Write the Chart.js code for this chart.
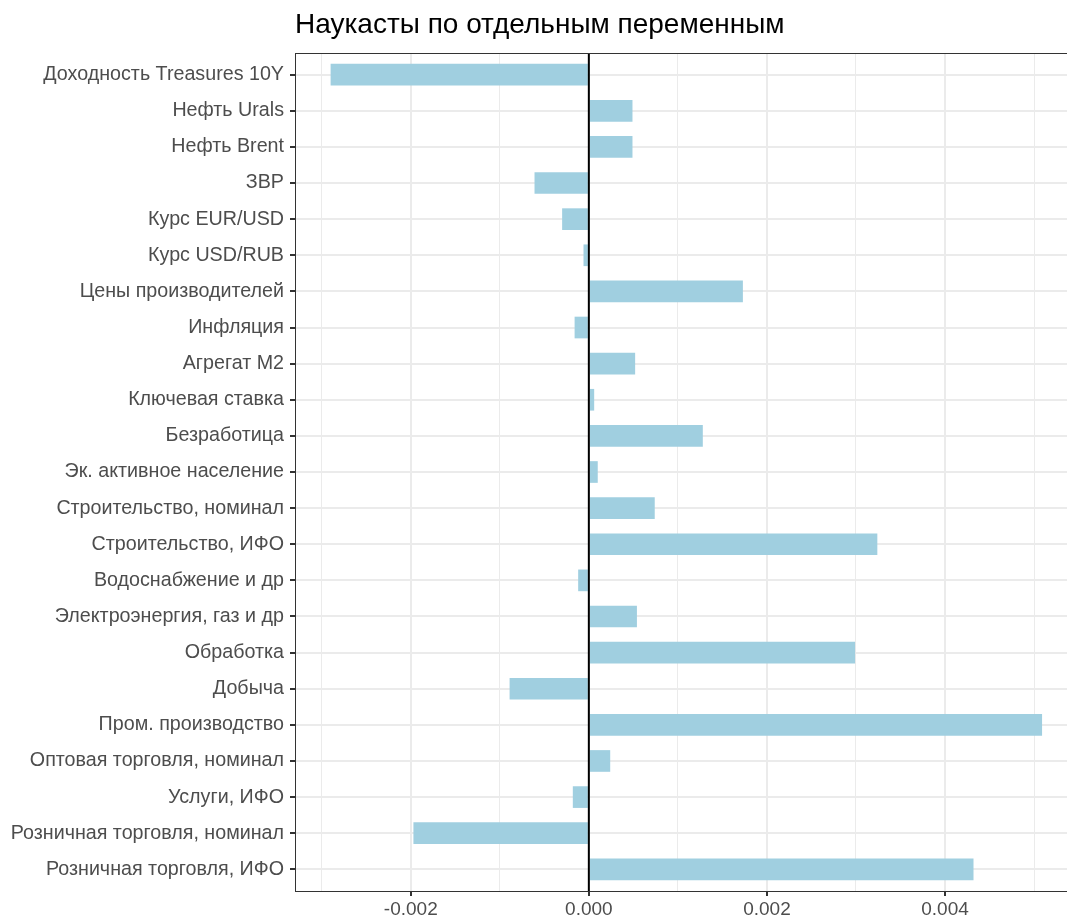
<!DOCTYPE html>
<html>
<head>
<meta charset="utf-8">
<script src="https://cdn.jsdelivr.net/npm/chart.js@4.4.0/dist/chart.umd.min.js"></script>
<style>
  html, body { margin: 0; padding: 0; background: #fff; }
  canvas { display: block; }
</style>
</head>
<body>
<canvas id="myChart" width="1067" height="921"></canvas>
<script>
const titleText = 'Наукасты по отдельным переменным';

const labels = [
  'Доходность Treasures 10Y',
  'Нефть Urals',
  'Нефть Brent',
  'ЗВР',
  'Курс EUR/USD',
  'Курс USD/RUB',
  'Цены производителей',
  'Инфляция',
  'Агрегат M2',
  'Ключевая ставка',
  'Безработица',
  'Эк. активное население',
  'Строительство, номинал',
  'Строительство, ИФО',
  'Водоснабжение и др',
  'Электроэнергия, газ и др',
  'Обработка',
  'Добыча',
  'Пром. производство',
  'Оптовая торговля, номинал',
  'Услуги, ИФО',
  'Розничная торговля, номинал',
  'Розничная торговля, ИФО'
];

const values = [
  -0.00290, 0.00049, 0.00049, -0.00061, -0.00030, -0.00006,
  0.00173, -0.00016, 0.00052, 0.00006, 0.00128, 0.00010,
  0.00074, 0.00324, -0.00012, 0.00054, 0.00299, -0.00089,
  0.00509, 0.00024, -0.00018, -0.00197, 0.00432
];

const xTicks = [-0.002, 0.000, 0.002, 0.004];

const textColor = '#4d4d4d';
const gridColor = '#ebebeb';
const barColor = '#a0cfe0';
const fontFamily = '"Liberation Sans", Arial, sans-serif';

// bars placed on a numeric y scale so the ggplot 0.6 padding can be kept
const points = values.map(function(v, i){ return {x: v, y: i}; });

function isMajor(v){
  return xTicks.some(function(t){ return Math.abs(t - v) < 1e-9; });
}

const panelPlugin = {
  id: 'panel',
  afterDatasetsDraw: function(chart){
    const ctx = chart.ctx;
    const a = chart.chartArea;
    const x0 = chart.scales.x.getPixelForValue(0);
    ctx.save();
    ctx.strokeStyle = '#000';
    ctx.lineWidth = 2;
    ctx.beginPath();
    ctx.moveTo(x0, a.top);
    ctx.lineTo(x0, a.bottom);
    ctx.stroke();
    ctx.strokeStyle = '#333333';
    ctx.lineWidth = 1;
    ctx.strokeRect(a.left + 0.5, a.top + 0.5, a.right - a.left + 10, a.bottom - a.top);
    ctx.fillStyle = '#000';
    ctx.font = '28px ' + fontFamily;
    ctx.textBaseline = 'alphabetic';
    ctx.textAlign = 'left';
    ctx.fillText(titleText, a.left, 33);
    ctx.restore();
  }
};

const data = {
  datasets: [{
    data: points,
    backgroundColor: barColor,
    borderWidth: 0,
    barPercentage: 0.6,
    categoryPercentage: 1.0
  }]
};

const config = {
  type: 'bar',
  data: data,
  options: {
    indexAxis: 'y',
    responsive: false,
    animation: false,
    layout: { padding: { top: 53, right: 0, left: 0, bottom: 0 } },
    plugins: {
      legend: { display: false },
      tooltip: { enabled: false }
    },
    scales: {
      x: {
        type: 'linear',
        min: -0.0033,
        max: 0.00537,
        afterFit: function(s){ s.height = 30; },
        afterBuildTicks: function(s){
          const t = [];
          for (let k = -3; k <= 5; k++) t.push({value: k / 1000});
          s.ticks = t;
        },
        border: { display: true, color: '#333333', width: 1 },
        grid: {
          color: gridColor,
          lineWidth: function(c){ return (c.tick && isMajor(c.tick.value)) ? 2 : 1; },
          tickColor: function(c){ return (c.tick && isMajor(c.tick.value)) ? '#333333' : 'rgba(0,0,0,0)'; },
          tickLength: 5
        },
        ticks: {
          color: textColor,
          font: { family: fontFamily, size: 19 },
          padding: 2,
          maxRotation: 0,
          autoSkip: false,
          callback: function(v){ return isMajor(v) ? v.toFixed(3) : ''; }
        }
      },
      y: {
        type: 'linear',
        reverse: true,
        offset: false,
        min: -0.6,
        max: labels.length - 1 + 0.6,
        afterFit: function(s){ s.width = 295; },
        afterBuildTicks: function(s){
          s.ticks = labels.map(function(l, i){ return {value: i}; });
        },
        border: { display: true, color: '#333333', width: 1 },
        grid: {
          offset: false,
          color: gridColor,
          lineWidth: 2,
          tickColor: '#333333',
          tickLength: 5
        },
        ticks: {
          color: textColor,
          font: { family: fontFamily, size: 19.7 },
          padding: 6,
          autoSkip: false,
          callback: function(v){ return labels[v]; }
        }
      }
    }
  },
  plugins: [panelPlugin]
};

const myChart = new Chart(
  document.getElementById('myChart'),
  config
);
</script>
</body>
</html>
